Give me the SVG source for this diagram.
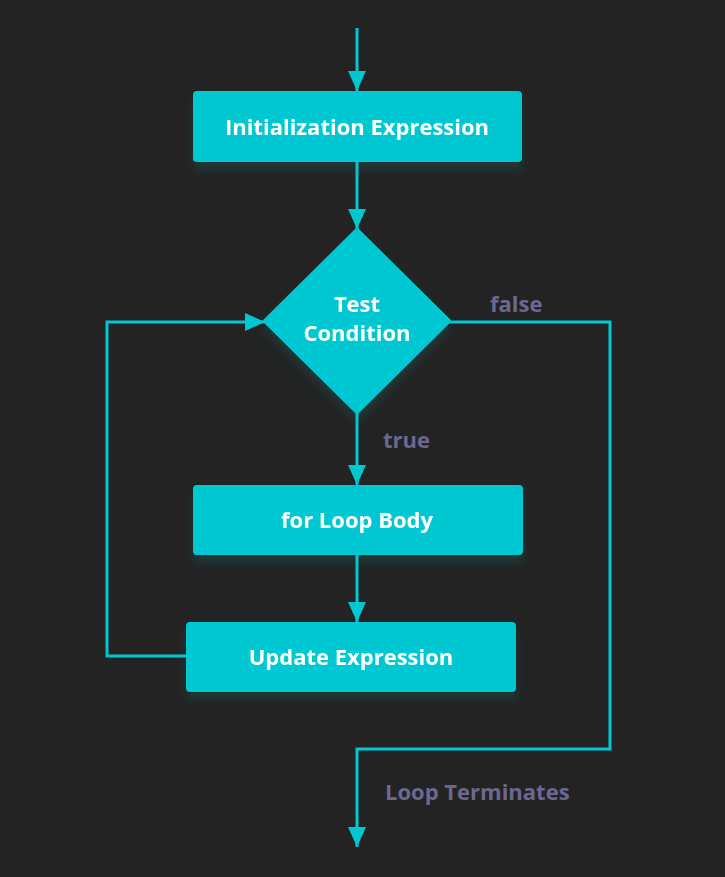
<svg xmlns="http://www.w3.org/2000/svg" width="725" height="877" viewBox="0 0 725 877">
<defs>
<style>
.node{fill:#00c8d3}
.nt{font-family:"Open Sans",Lato,sans-serif;font-weight:700;font-size:22px;fill:#ffffff;text-anchor:middle}
.lbl{font-family:"Open Sans",Lato,sans-serif;font-weight:700;font-size:22px;fill:#6b6891}
.edge{fill:none;stroke:#00c8d3;stroke-width:3}
</style>
<marker id="ah" viewBox="0 0 20 18" refX="20" refY="9" markerWidth="20" markerHeight="18" markerUnits="userSpaceOnUse" orient="auto">
<path d="M0,0 L20,9 L0,18 Z" fill="#00c8d3"/>
</marker>
<filter id="sh" x="-10%" y="-10%" width="120%" height="140%">
<feDropShadow dx="0" dy="8" stdDeviation="5" flood-color="#00c8d3" flood-opacity="0.12"/>
</filter>
</defs>
<rect width="725" height="877" fill="#232323"/>
<g id="connectors">
<path class="edge" d="M357,28 V91" marker-end="url(#ah)"/>
<path class="edge" d="M357,162 V229" marker-end="url(#ah)"/>
<path class="edge" d="M357,413 V485" marker-end="url(#ah)"/>
<path class="edge" d="M357,555 V622" marker-end="url(#ah)"/>
<path class="edge" d="M186,656 H107 V322 H265" marker-end="url(#ah)"/>
<path class="edge" d="M450,322 H610 V749 H357 V847" marker-end="url(#ah)"/>
<text class="lbl" x="490" y="312">false</text>
<text class="lbl" x="383" y="448">true</text>
<text class="lbl" x="385" y="800">Loop Terminates</text>
</g>
<g id="init" filter="url(#sh)">
<rect class="node" x="193" y="91" width="329" height="71" rx="4"/>
<text class="nt" x="357" y="135">Initialization Expression</text>
</g>
<g id="test" filter="url(#sh)">
<path class="node" d="M357,230 L449,321 L357,412 L265,321 Z" stroke="#00c8d3" stroke-width="4" stroke-linejoin="round"/>
<text class="nt" x="357" y="312">Test</text>
<text class="nt" x="357" y="341">Condition</text>
</g>
<g id="body" filter="url(#sh)">
<rect class="node" x="193" y="485" width="330" height="70" rx="4"/>
<text class="nt" x="357" y="528">for Loop Body</text>
</g>
<g id="update" filter="url(#sh)">
<rect class="node" x="186" y="622" width="330" height="70" rx="4"/>
<text class="nt" x="351" y="665">Update Expression</text>
</g>
</svg>
